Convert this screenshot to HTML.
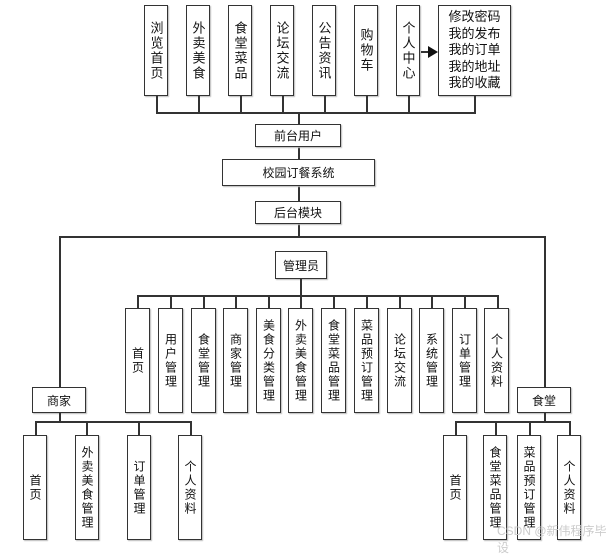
<!DOCTYPE html><html><head><meta charset="utf-8"><style>
body{margin:0;width:612px;height:543px;background:#fff;position:relative;overflow:hidden;font-family:"Liberation Sans","Noto Sans CJK SC",sans-serif;color:#111}
.b{position:absolute;box-sizing:border-box;border:1.5px solid #333;background:#fff;box-shadow:1px 1px 1px #bbb;display:flex;align-items:center;justify-content:center;font-size:12px}
.v{writing-mode:vertical-rl;text-orientation:upright;line-height:1;letter-spacing:2px}
.h{position:absolute;height:1.5px;background:#333}
.l{position:absolute;width:1.5px;background:#333}
</style></head><body>
<!-- top -->
<div class="b v" style="left:144px;top:5px;width:24px;height:91px;font-size:13px">浏览首页</div>
<div class="b v" style="left:186px;top:5px;width:24px;height:91px;font-size:13px">外卖美食</div>
<div class="b v" style="left:228px;top:5px;width:24px;height:91px;font-size:13px">食堂菜品</div>
<div class="b v" style="left:270px;top:5px;width:24px;height:91px;font-size:13px">论坛交流</div>
<div class="b v" style="left:312px;top:5px;width:24px;height:91px;font-size:13px">公告资讯</div>
<div class="b v" style="left:354px;top:5px;width:24px;height:91px;font-size:13px">购物车</div>
<div class="b v" style="left:396px;top:5px;width:24px;height:91px;font-size:13px">个人中心</div>
<div class="b" style="left:438px;top:5px;width:73px;height:91px;font-size:13px;line-height:16.5px;text-align:center">修改密码<br>我的发布<br>我的订单<br>我的地址<br>我的收藏</div>
<div class="h" style="left:421px;top:51px;width:8px"></div>
<svg style="position:absolute;left:428px;top:46px" width="10" height="12"><polygon points="0,0 10,6 0,12" fill="#111"/></svg>
<div class="l" style="left:156px;top:96px;height:17px"></div>
<div class="l" style="left:198px;top:96px;height:17px"></div>
<div class="l" style="left:240px;top:96px;height:17px"></div>
<div class="l" style="left:282px;top:96px;height:17px"></div>
<div class="l" style="left:324px;top:96px;height:17px"></div>
<div class="l" style="left:366px;top:96px;height:17px"></div>
<div class="l" style="left:408px;top:96px;height:17px"></div>
<div class="l" style="left:474px;top:96px;height:17px"></div>
<div class="h" style="left:156px;top:112px;width:320px"></div>
<div class="l" style="left:298px;top:112px;height:125px"></div>
<div class="b" style="left:255px;top:124px;width:86px;height:23px">前台用户</div>
<div class="b" style="left:222px;top:159px;width:153px;height:27px">校园订餐系统</div>
<div class="b" style="left:255px;top:201px;width:86px;height:23px">后台模块</div>
<!-- middle -->
<div class="h" style="left:59px;top:236px;width:486px"></div>
<div class="l" style="left:59px;top:236px;height:151px"></div>
<div class="l" style="left:544px;top:236px;height:151px"></div>
<div class="b" style="left:275px;top:251px;width:52px;height:28px">管理员</div>
<div class="l" style="left:300px;top:279px;height:17px"></div>
<div class="h" style="left:138px;top:295px;width:360px"></div>
<div style="position:absolute;left:0;top:0">
<div class="l" style="left:137px;top:295px;height:13px"></div>
<div class="l" style="left:170px;top:295px;height:13px"></div>
<div class="l" style="left:203px;top:295px;height:13px"></div>
<div class="l" style="left:235px;top:295px;height:13px"></div>
<div class="l" style="left:268px;top:295px;height:13px"></div>
<div class="l" style="left:300px;top:295px;height:13px"></div>
<div class="l" style="left:333px;top:295px;height:13px"></div>
<div class="l" style="left:366px;top:295px;height:13px"></div>
<div class="l" style="left:399px;top:295px;height:13px"></div>
<div class="l" style="left:431px;top:295px;height:13px"></div>
<div class="l" style="left:464px;top:295px;height:13px"></div>
<div class="l" style="left:497px;top:295px;height:13px"></div>
</div>
<div class="b v" style="left:125px;top:308px;width:25px;height:105px">首页</div>
<div class="b v" style="left:158px;top:308px;width:25px;height:105px">用户管理</div>
<div class="b v" style="left:191px;top:308px;width:25px;height:105px">食堂管理</div>
<div class="b v" style="left:223px;top:308px;width:25px;height:105px">商家管理</div>
<div class="b v" style="left:256px;top:308px;width:25px;height:105px">美食分类管理</div>
<div class="b v" style="left:288px;top:308px;width:25px;height:105px">外卖美食管理</div>
<div class="b v" style="left:321px;top:308px;width:25px;height:105px">食堂菜品管理</div>
<div class="b v" style="left:354px;top:308px;width:25px;height:105px">菜品预订管理</div>
<div class="b v" style="left:387px;top:308px;width:25px;height:105px">论坛交流</div>
<div class="b v" style="left:419px;top:308px;width:25px;height:105px">系统管理</div>
<div class="b v" style="left:452px;top:308px;width:25px;height:105px">订单管理</div>
<div class="b v" style="left:484px;top:308px;width:25px;height:105px">个人资料</div>
<!-- 商家 -->
<div class="b" style="left:32px;top:387px;width:54px;height:26px">商家</div>
<div class="l" style="left:59px;top:413px;height:9px"></div>
<div class="h" style="left:35px;top:421px;width:156px"></div>
<div class="l" style="left:35px;top:421px;height:14px"></div>
<div class="l" style="left:86px;top:421px;height:14px"></div>
<div class="l" style="left:138px;top:421px;height:14px"></div>
<div class="l" style="left:190px;top:421px;height:14px"></div>
<div class="b v" style="left:23px;top:435px;width:24px;height:105px">首页</div>
<div class="b v" style="left:75px;top:435px;width:24px;height:105px">外卖美食管理</div>
<div class="b v" style="left:127px;top:435px;width:24px;height:105px">订单管理</div>
<div class="b v" style="left:178px;top:435px;width:24px;height:105px">个人资料</div>
<!-- 食堂 -->
<div class="b" style="left:517px;top:387px;width:54px;height:26px">食堂</div>
<div class="l" style="left:544px;top:413px;height:9px"></div>
<div class="h" style="left:455px;top:421px;width:115px"></div>
<div class="l" style="left:455px;top:421px;height:14px"></div>
<div class="l" style="left:495px;top:421px;height:14px"></div>
<div class="l" style="left:529px;top:421px;height:14px"></div>
<div class="l" style="left:569px;top:421px;height:14px"></div>
<div class="b v" style="left:443px;top:435px;width:24px;height:105px">首页</div>
<div class="b v" style="left:483px;top:435px;width:24px;height:105px">食堂菜品管理</div>
<div class="b v" style="left:517px;top:435px;width:24px;height:105px">菜品预订管理</div>
<div class="b v" style="left:557px;top:435px;width:24px;height:105px">个人资料</div>
<div style="position:absolute;left:497px;top:522px;font-size:12px;color:#ccc">CSDN @新伟程序毕设</div>
</body></html>
